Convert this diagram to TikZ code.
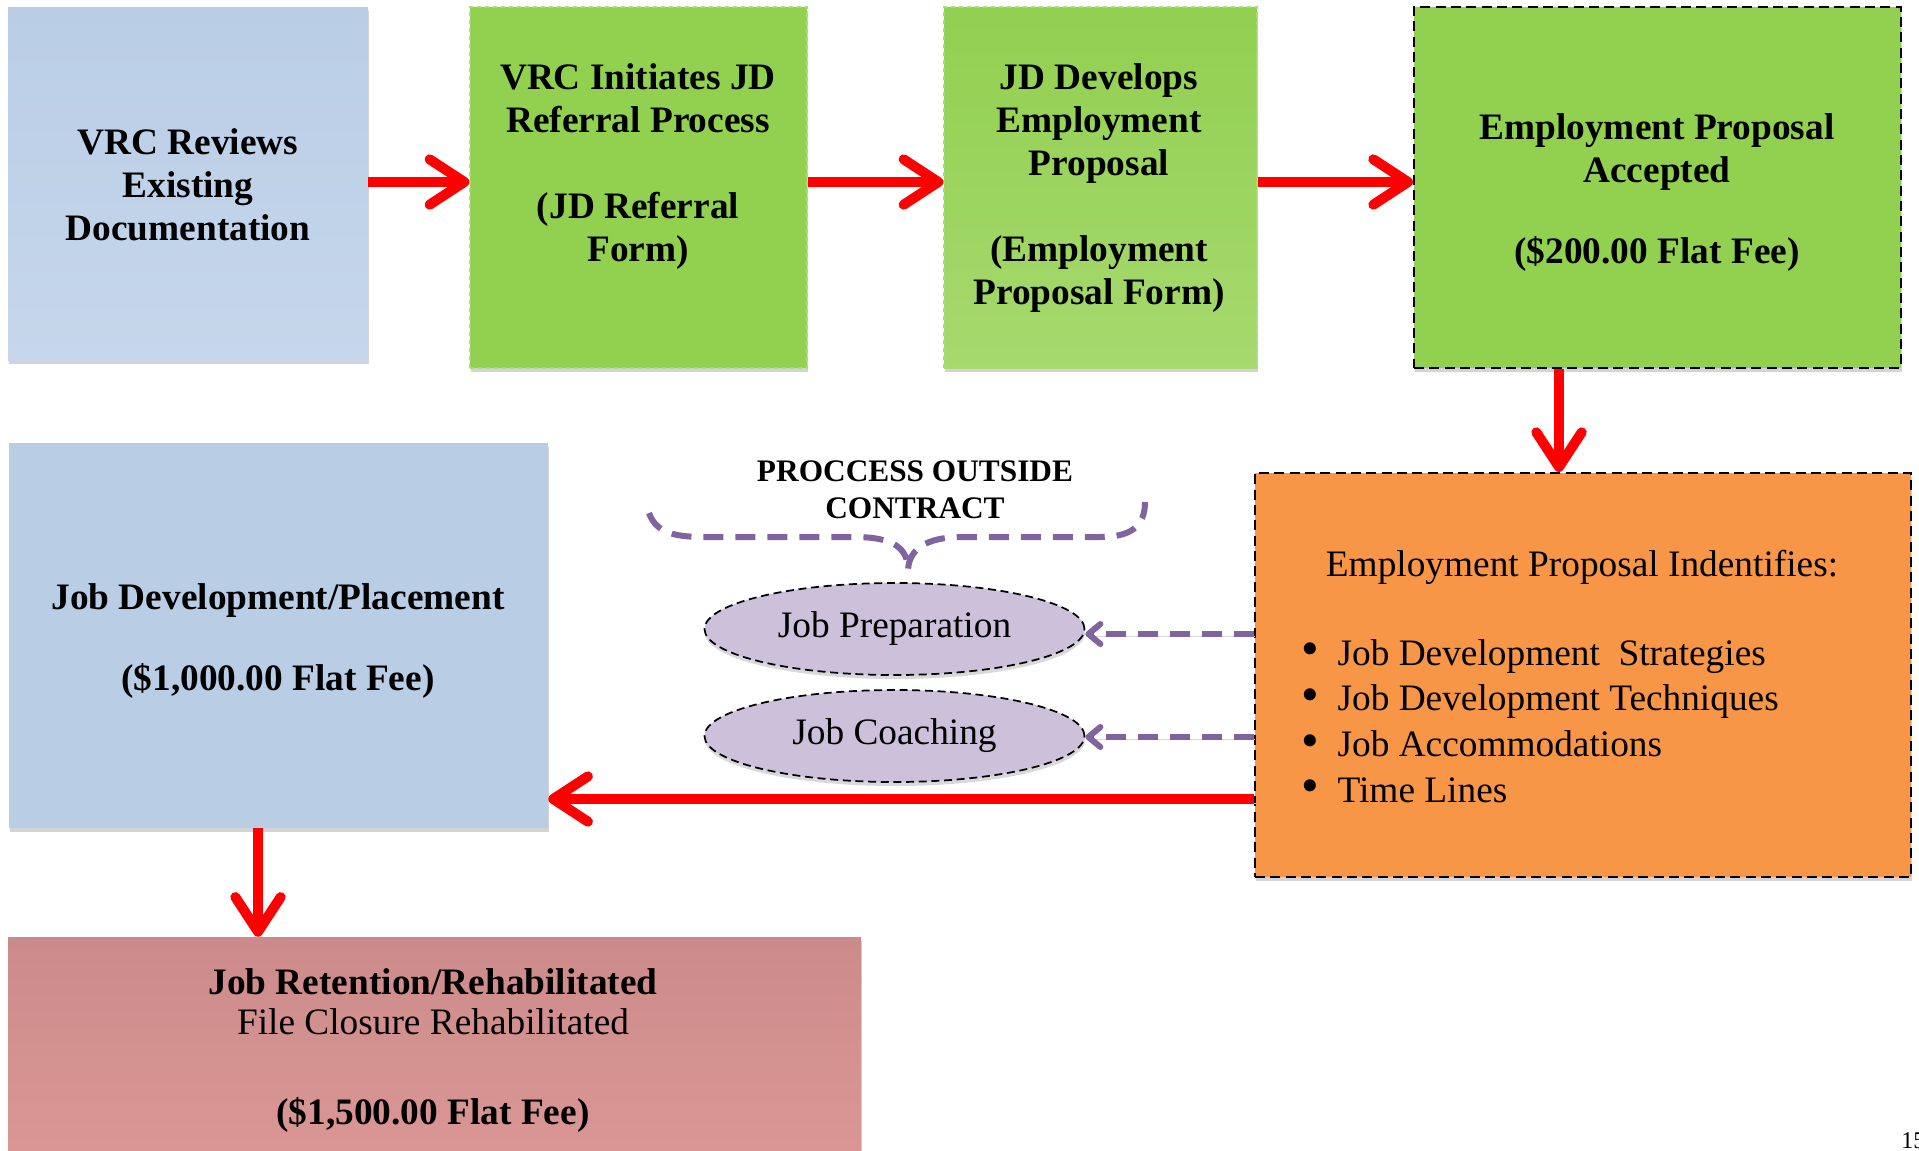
\documentclass[tikz,border=0pt]{standalone}
\usepackage{fontspec}
\setmainfont{Liberation Serif}
\usetikzlibrary{arrows.meta,shapes.geometric,shadows}

\definecolor{boxblue}{HTML}{B9CDE5}
\definecolor{boxbluelt}{HTML}{C6D7EC}
\definecolor{boxgreen}{HTML}{92D050}
\definecolor{boxgreenlt}{HTML}{A6D96E}
\definecolor{greenedge}{HTML}{A8DC74}
\definecolor{boxorange}{HTML}{F79646}
\definecolor{boxrose}{HTML}{CC8B8B}
\definecolor{boxroselt}{HTML}{D99694}
\definecolor{lilac}{HTML}{CCC0DA}
\definecolor{lineviolet}{HTML}{8064A2}
\definecolor{flowred}{HTML}{FF0000}

\newcommand{\listdot}{\raisebox{-0.5pt}{\scalebox{1.35}{\textbullet}}\hspace{14pt}}

\tikzset{
  card/.style={rectangle, inner sep=0pt,
    general shadow={fill=black!17, shadow xshift=0.4pt, shadow yshift=-3pt}},
  greenedge box/.style={draw=greenedge, line width=1pt, dashed},
  blackedge box/.style={draw=black, line width=1.5pt, dash pattern=on 7.5pt off 4pt},
  bigtext/.style={align=center, font=\fontsize{28}{32.25}\selectfont\bfseries},
  flow/.style={draw=flowred, line width=7.5pt,
    -{Straight Barb[length=26pt,width=34pt,line cap=round,line join=round]},
    preaction={draw=black!18, transform canvas={shift={(1.2pt,-3pt)}}}},
  outside/.style={draw=lineviolet, line width=4.5pt, dash pattern=on 15pt off 9pt},
  outflow/.style={outside, -{Straight Barb[length=9pt,width=15pt,line cap=round,line join=round]},
    preaction={draw=black!15, transform canvas={shift={(1pt,-2pt)}}}},
  task/.style={ellipse, fill=lilac, draw=black, line width=1.3pt, dash pattern=on 6pt off 3.5pt,
    minimum width=285pt, minimum height=69pt, inner sep=0pt,
    font=\fontsize{28}{30}\selectfont,
    general shadow={fill=black!15, shadow xshift=0.4pt, shadow yshift=-3pt}},
}

\begin{document}
\begin{tikzpicture}[x=0.75pt, y=-0.75pt]
  \useasboundingbox[fill=white] (0,0) rectangle (1919,1150);

  % guide coordinates for the straight connectors
  \coordinate (toprow) at (0,182);
  \coordinate (lowrow) at (0,799);
  \coordinate (dropx) at (1559,0);
  \coordinate (fgx) at (258,0);
  \coordinate (preprow) at (0,634);
  \coordinate (coachrow) at (0,737);

  % top row of steps
  \node[card, top color=boxblue, bottom color=boxbluelt,
        minimum width=270pt, minimum height=264.75pt] (A) at (188,183.5) {};
  \node[card, greenedge box, fill=boxgreen,
        minimum width=252.75pt, minimum height=270.75pt] (B) at (638.5,187.5) {};
  \node[card, greenedge box, top color=boxgreen, bottom color=boxgreenlt,
        minimum width=234.75pt, minimum height=270.75pt] (C) at (1100.5,187.5) {};
  \node[card, blackedge box, fill=boxgreen,
        minimum width=365.25pt, minimum height=270.75pt] (D) at (1657.5,187.5) {};

  % middle and bottom rows
  \node[card, blackedge box, fill=boxorange,
        minimum width=492pt, minimum height=303pt] (E) at (1583,675) {};
  \node[card, fill=boxblue,
        minimum width=404.25pt, minimum height=288.75pt] (F) at (278.5,635.5) {};
  \node[card, top color=boxrose, bottom color=boxroselt,
        minimum width=639.75pt, minimum height=159.75pt] (G) at (434.5,1043.5) {};

  % box texts
  \node[bigtext] (Atext) at (188,185) {VRC Reviews\\Existing\\Documentation};
  \node[bigtext] (Btext) at (638,166.5) {VRC Initiates JD\\Referral Process\\[32.25pt](JD Referral\\Form)};
  \node[bigtext] (Ctext) at (1099,188) {JD Develops\\Employment\\Proposal\\[32.25pt](Employment\\Proposal Form)};
  \node[bigtext] (Dtext) at (1657,193) {Employment Proposal\\Accepted\\[28.5pt](\$200.00 Flat Fee)};
  \node[bigtext] (Ftext) at (278,641) {Job Development/Placement\\[28pt](\$1,000.00 Flat Fee)};
  \node[align=center, font=\fontsize{28}{30}\selectfont] (Gtext) at (433,1051)
    {\textbf{Job Retention/Rehabilitated}\\File Closure Rehabilitated\\[37.5pt]\textbf{(\$1,500.00 Flat Fee)}};

  \node[font=\fontsize{28}{30}\selectfont] (Ehead) at (1582,567) {Employment Proposal Indentifies:};
  \node[anchor=west, align=left, inner sep=0pt, font=\fontsize{28}{34.3}\selectfont] (Elist) at (1301,721)
    {\listdot Job Development\ \ Strategies\\
     \listdot Job Development Techniques\\
     \listdot Job Accommodations\\
     \listdot Time Lines};

  % activities handled outside the contract
  \node[task] (prep) at (894.5,629) {Job Preparation};
  \node[task] (coach) at (894.5,736) {Job Coaching};

  \node[align=center, font=\fontsize{23.5}{27.5}\selectfont\bfseries] (outlabel) at (915,490)
    {PROCCESS OUTSIDE\\CONTRACT};
  \coordinate (bracetip) at (908,570);
  \draw[outside, line cap=butt]
    (649,513) .. controls (656,533) and (675,537) .. (705,537) -- (855,537)
    .. controls (893,537) and (908,548) .. (bracetip)
    .. controls (909,550) and (925,537) .. (962,537) -- (1100,537)
    .. controls (1130,537) and (1145,527) .. (1145,502);

  % connectors
  \draw[flow] (A.east |- toprow) -- (B.west |- toprow);
  \draw[flow] (B.east |- toprow) -- (C.west |- toprow);
  \draw[flow] (C.east |- toprow) -- (D.west |- toprow);
  \draw[flow] (D.south -| dropx) -- (E.north -| dropx);
  \draw[flow] (E.west |- lowrow) -- (F.east |- lowrow);
  \draw[flow] (F.south -| fgx) -- (G.north -| fgx);

  \draw[outflow] (E.west |- preprow) -- (prep.east |- preprow);
  \draw[outflow] (E.west |- coachrow) -- (coach.east |- coachrow);

  % page number at the corner
  \node[anchor=north west, inner sep=0pt, font=\fontsize{18}{20}\selectfont] (pageno) at (1901,1132) {15};
\end{tikzpicture}
\end{document}
